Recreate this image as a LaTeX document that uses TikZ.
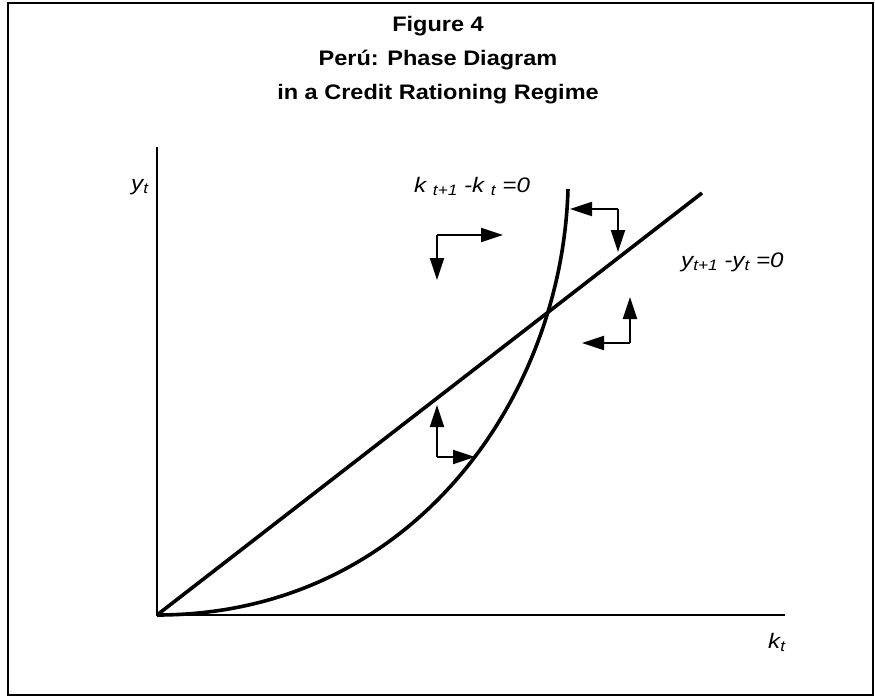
\documentclass[tikz,border=0pt]{standalone}
\usepackage{fontspec}
\setmainfont{Liberation Sans}
\usetikzlibrary{arrows.meta}
\tikzset{
  curveline/.style={line width=3.6pt},
  axisline/.style={line width=2.2pt},
  flowarrow/.style={line width=2pt,-{Triangle[length=22pt,width=14pt]}},
  lbl/.style={inner sep=0pt,font=\fontsize{21}{24}\selectfont\itshape},
  titletext/.style={inner sep=0pt,font=\fontsize{21}{24}\selectfont\bfseries}
}
\newcommand{\sbs}[1]{\raisebox{-3pt}{\fontsize{15}{16}\selectfont #1}}
\newcommand{\wid}[1]{\scalebox{1.15}[1]{#1}}
\begin{document}
\begin{tikzpicture}[x=1pt,y=-1pt]
\useasboundingbox (0,0) rectangle (875,696);
\fill[white] (0,0) rectangle (875,696);
% frame
\draw[line width=2pt] (8,3) rectangle (873,695);
% title
\node[titletext,anchor=base] (t1) at (438,31) {\scalebox{1.12}[1]{Figure 4}};
\node[titletext,anchor=base] (t2) at (438,65) {\scalebox{1.12}[1]{Perú: Phase Diagram}};
\node[titletext,anchor=base] (t3) at (438,99) {\scalebox{1.12}[1]{in a Credit Rationing Regime}};
% axes
\coordinate (O) at (157,615);
\coordinate (ytop) at (157,147);
\coordinate (xend) at (785,615);
\draw[axisline] (ytop) -- (O) -- (xend);
\node[lbl,anchor=base west] (ylab) at (131,190) {\wid{y\sbs{t}}};
\node[lbl,anchor=base west] (xlab) at (768,648) {\wid{k\sbs{t}}};
% curves
\coordinate (lend) at (702,193);
\coordinate (cend) at (568,189);
\draw[curveline] (O) -- (lend);
\draw[curveline] (O) .. controls (410,615) and (562,400) .. (cend);
% curve labels
\node[lbl,anchor=base west] (klab) at (414,192) {\wid{k \sbs{t+1} -k \sbs{t} =0}};
\node[lbl,anchor=base west] (ylab2) at (681,267) {\wid{y\sbs{t+1} -y\sbs{t} =0}};
% arrows
\coordinate (A) at (437,235);
\draw[flowarrow] (A) -- (503,235);
\draw[flowarrow] (A) -- (437,280);
\coordinate (B) at (618,209);
\draw[flowarrow] (B) -- (570,209);
\draw[flowarrow] (B) -- (618,252);
\coordinate (C) at (630,343);
\draw[flowarrow] (C) -- (630,297);
\draw[flowarrow] (C) -- (582,343);
\coordinate (D) at (437,457);
\draw[flowarrow] (D) -- (437,405);
\draw[flowarrow] (D) -- (475,457);
\end{tikzpicture}
\end{document}
